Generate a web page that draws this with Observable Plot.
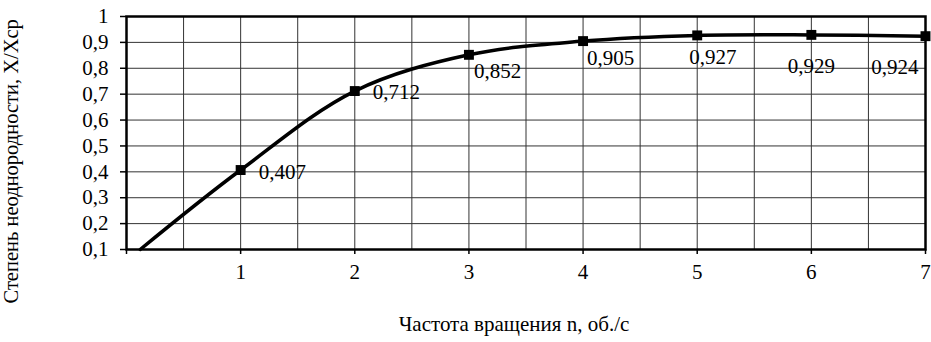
<!DOCTYPE html>
<html><head><meta charset="utf-8">
<script src="https://cdn.jsdelivr.net/npm/d3@7"></script>
<script src="https://cdn.jsdelivr.net/npm/@observablehq/plot@0.6"></script>
<style>body{margin:0;background:#fff;} svg{display:block;} svg text{font-family:'Liberation Serif','Times New Roman',serif !important;}</style>
</head><body><div id="chart"></div>
<script>
// ---- data ----
const speeds = [1, 2, 3, 4, 5, 6, 7];
const values = [0.407, 0.712, 0.852, 0.905, 0.927, 0.929, 0.924];
const curveStartN = 0.12;   // where the smoothed curve enters the plot
const curveStartV = 0.1;
const yTicks = [0.1, 0.2, 0.3, 0.4, 0.5, 0.6, 0.7, 0.8, 0.9, 1];
const xTicks = [0, 1, 2, 3, 4, 5, 6, 7];
const xGrid = [0.5, 1, 1.5, 2, 2.5, 3, 3.5, 4, 4.5, 5, 5.5, 6, 6.5];
const yGrid = [0.2, 0.3, 0.4, 0.5, 0.6, 0.7, 0.8, 0.9];
const xTitle = "Частота вращения n, об./с";
const yTitle = "Степень неоднородности, X/Xср";

// label placement (style, not data): dx, dy, anchor
const labelPlacement = [
  [18, 2, "start"], [18, 1, "start"], [5, 16, "start"], [4, 17, "start"],
  [-8, 22, "start"], [0, 31, "middle"], [-7, 31, "end"]
];

const FONT = "'Liberation Serif', 'Times New Roman', serif";
const fmt = d => String(d).replace(".", ",");
const points = speeds.map((n, i) => ({n, v: values[i]}));
const linePts = [{n: curveStartN, v: curveStartV}, ...points];

const labelMarks = points.map((p, i) => Plot.text([p], {
  x: "n", y: "v", text: d => fmt(d.v),
  dx: labelPlacement[i][0], dy: labelPlacement[i][1], textAnchor: labelPlacement[i][2],
  fill: "#000", fontSize: 21, fontFamily: FONT
}));

const chart = Plot.plot({
  width: 931, height: 342,
  marginLeft: 126, marginRight: 6, marginTop: 16, marginBottom: 93,
  style: {fontFamily: FONT, fontSize: "20px", color: "#000", background: "#fff"},
  x: {domain: [0, 7]},
  y: {domain: [0.1, 1]},
  marks: [
    Plot.ruleX(xGrid, {stroke: "#333", strokeWidth: 1}),
    Plot.ruleY(yGrid, {stroke: "#333", strokeWidth: 1}),
    Plot.axisY({ticks: yTicks, tickFormat: fmt, tickSize: 6, tickPadding: 12, label: null, strokeWidth: 1.5, fontSize: 21, fontFamily: FONT}),
    Plot.axisX({ticks: xTicks, tickFormat: d => d === 0 ? "" : String(d), tickSize: 5, tickPadding: 10, label: null, strokeWidth: 1.5, fontSize: 21, fontFamily: FONT}),
    Plot.frame({stroke: "#000", strokeWidth: 2.5}),
    Plot.line(linePts, {x: "n", y: "v", curve: "catmull-rom", stroke: "#000", strokeWidth: 3.5}),
    Plot.dot(points, {x: "n", y: "v", symbol: "square", r: 5.6, fill: "#000", stroke: "none"}),
    ...labelMarks,
    Plot.text([xTitle], {frameAnchor: "bottom", dx: -12, dy: 81, fontSize: 21, fill: "#000", fontFamily: FONT}),
    Plot.text([yTitle], {frameAnchor: "bottom-left", dx: -109, dy: 54, rotate: -90, textAnchor: "start", fontSize: 20.5, fill: "#000", fontFamily: FONT})
  ]
});
document.getElementById("chart").appendChild(chart);
</script>
</body></html>
